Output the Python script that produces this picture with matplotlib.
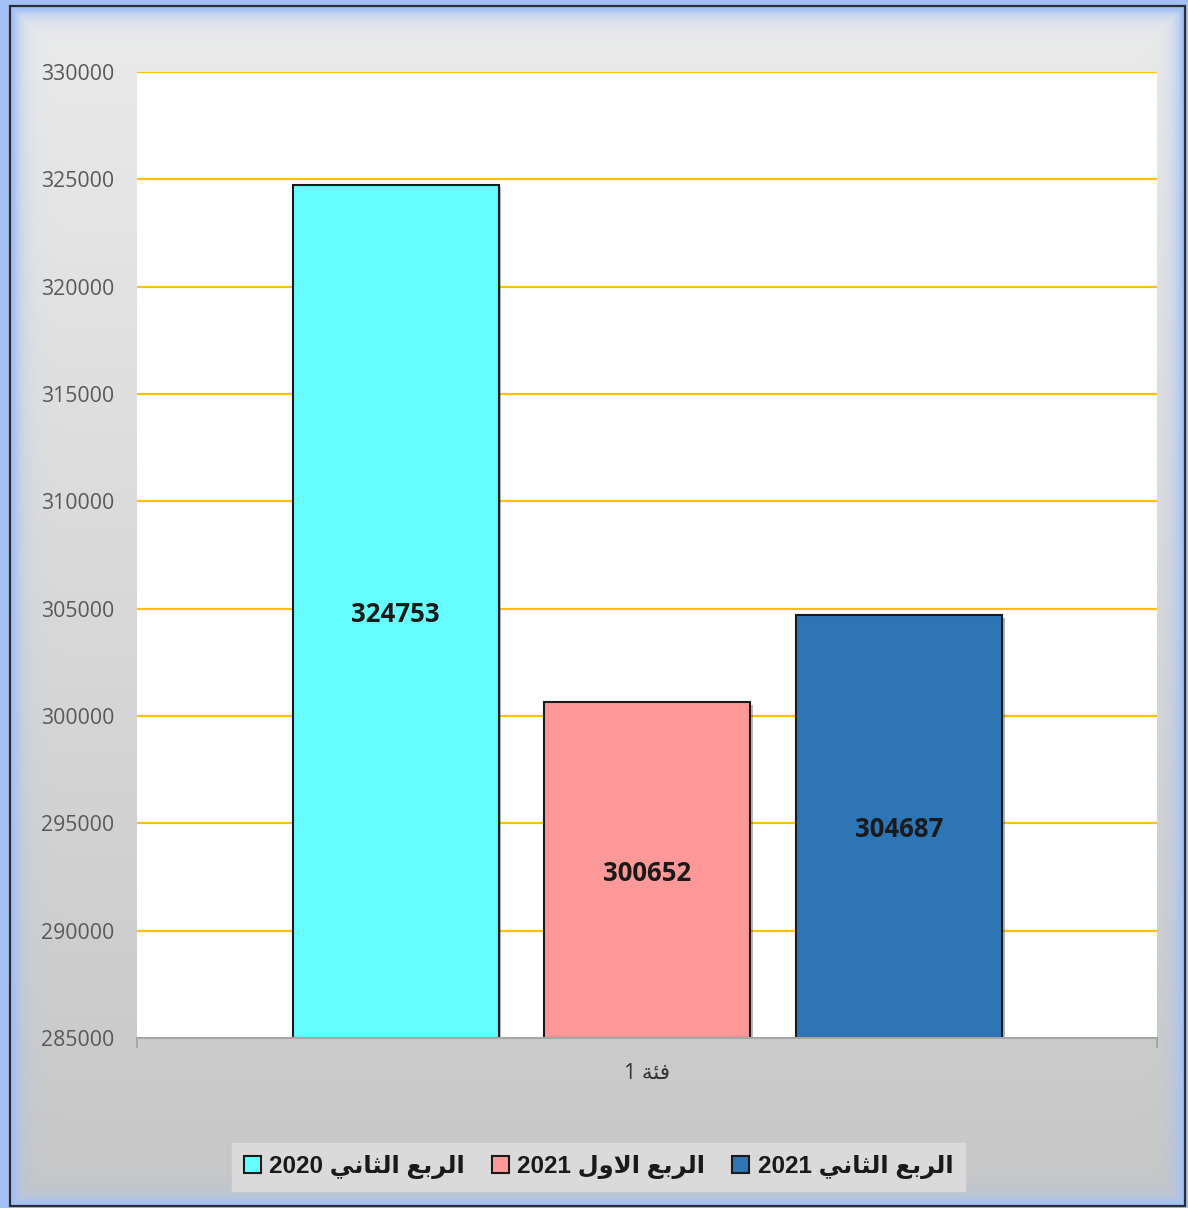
import numpy as np
import matplotlib
matplotlib.use("Agg")
import matplotlib.pyplot as plt
from matplotlib.patches import Rectangle
from matplotlib import patheffects as pe

# ---- data ----
category = "فئة 1"
series_names = ["الربع الثاني 2020", "الربع الاول 2021", "الربع الثاني 2021"]
series_values = [324753, 300652, 304687]
series_colors = ["#66FFFF", "#FF9999", "#2E75B6"]
y_ticks = [285000, 290000, 295000, 300000, 305000, 310000, 315000, 320000, 325000, 330000]

# ---- simple Arabic shaping (contextual forms + right-to-left order) ----
FORMS = {
    'ا': ('\uFE8D', '\uFE8E', None, None),
    'ب': ('\uFE8F', '\uFE90', '\uFE91', '\uFE92'),
    'ة': ('\uFE93', '\uFE94', None, None),
    'ث': ('\uFE99', '\uFE9A', '\uFE9B', '\uFE9C'),
    'ر': ('\uFEAD', '\uFEAE', None, None),
    'ع': ('\uFEC9', '\uFECA', '\uFECB', '\uFECC'),
    'ف': ('\uFED1', '\uFED2', '\uFED3', '\uFED4'),
    'ل': ('\uFEDD', '\uFEDE', '\uFEDF', '\uFEE0'),
    'ن': ('\uFEE5', '\uFEE6', '\uFEE7', '\uFEE8'),
    'و': ('\uFEED', '\uFEEE', None, None),
    'ي': ('\uFEF1', '\uFEF2', '\uFEF3', '\uFEF4'),
    'ئ': ('\uFE89', '\uFE8A', '\uFE8B', '\uFE8C'),
    'لا': ('\uFEFB', '\uFEFC', None, None),
}


def shape_word(word):
    letters, i = [], 0
    while i < len(word):
        if word[i] == 'ل' and i + 1 < len(word) and word[i + 1] == 'ا':
            letters.append('لا')
            i += 2
        else:
            letters.append(word[i])
            i += 1
    out = []
    for k, ch in enumerate(letters):
        if ch not in FORMS:
            out.append(ch)
            continue
        prev = letters[k - 1] if k > 0 else None
        nxt = letters[k + 1] if k + 1 < len(letters) else None
        join_prev = prev in FORMS and FORMS[prev][2] is not None
        join_next = FORMS[ch][2] is not None and nxt in FORMS
        iso, fin, ini, med = FORMS[ch]
        if join_prev and join_next:
            out.append(med)
        elif join_prev:
            out.append(fin)
        elif join_next:
            out.append(ini)
        else:
            out.append(iso)
    return ''.join(reversed(out))


def rtl(text):
    tokens = text.split(' ')
    return ' '.join(t if t.isascii() else shape_word(t) for t in reversed(tokens))


W, H = 1188, 1208
fig = plt.figure(figsize=(W / 100, H / 100), dpi=100)

# ---- background: grey vertical gradient with a soft blue glowing frame ----
yy, xx = np.mgrid[0:H, 0:W].astype(float)
grey = 0.922 - 1.2e-4 * yy
x0, y0, x1, y1 = 10, 6, 1185, 1206
d = np.minimum.reduce([xx - x0, x1 - xx, yy - y0, y1 - yy])
blue = np.array([0.64, 0.76, 0.96])
w = np.where(d <= 0, 1.0, np.clip(1.5 * np.exp(-np.clip(d, 0, None) / 8.0), 0, 1))
img = (1 - w)[..., None] * grey[..., None] + w[..., None] * blue
bg = fig.add_axes([0, 0, 1, 1], zorder=-10)
bg.imshow(img, extent=[0, W, H, 0], aspect='auto', interpolation='bilinear')
bg.set_xlim(0, W)
bg.set_ylim(H, 0)
bg.axis('off')
bg.add_patch(Rectangle((x0, y0), x1 - x0, y1 - y0, fill=False,
                       edgecolor='#2a2c36', linewidth=1.6))

# ---- chart ----
ax = fig.add_axes([137 / W, 1 - 1038 / H, (1157 - 137) / W, (1038 - 72) / H])
ax.set_facecolor('white')

bar_w = 0.202
offsets = [-0.2465, 0.0, 0.2475]
for name, val, col, off in zip(series_names, series_values, series_colors, offsets):
    bars = ax.bar(off, val - y_ticks[0], bottom=y_ticks[0], width=bar_w, color=col,
                  edgecolor='#1a1a1a', linewidth=1.5, label=rtl(name), zorder=3)
    for b in bars:
        b.set_path_effects([pe.SimplePatchShadow(offset=(2, -2), alpha=0.35), pe.Normal()])
    ax.text(off, (val + y_ticks[0]) / 2, f"{val}", ha='center', va='center_baseline',
            fontsize=18.5, fontweight='bold', family='Open Sans', color='#1a1a1a', zorder=4)

ax.set_xlim(-0.5, 0.5)
ax.set_ylim(y_ticks[0], y_ticks[-1])
ax.set_yticks(y_ticks)
ax.set_yticklabels([str(v) for v in y_ticks], family='Open Sans', fontsize=15.3, color='#595959')
ax.tick_params(axis='y', length=0, pad=16.5)
for v in y_ticks[1:]:
    ax.axhline(v, color='#FFC000', linewidth=1.6, zorder=1)

ax.set_xticks([0])
ax.set_xticklabels([rtl(category)], family=['Open Sans', 'DejaVu Sans'],
                   fontsize=15.5, color='#333333')
ax.tick_params(axis='x', length=0, pad=18)
ax.set_xticks([-0.5, 0.5], minor=True)
ax.tick_params(axis='x', which='minor', length=7, width=1.2, color='#a0a0a0', direction='out')

for s in ['top', 'right', 'left']:
    ax.spines[s].set_visible(False)
ax.spines['bottom'].set_color('#a6a6a6')
ax.spines['bottom'].set_linewidth(1.5)
ax.spines['bottom'].set_zorder(5)

leg = ax.legend(loc='center', bbox_to_anchor=(598.5 / W, 1 - 1167 / H),
                bbox_transform=fig.transFigure, ncol=3, frameon=True, fancybox=False,
                facecolor='#dadada', edgecolor='#dadada', framealpha=1,
                prop={'family': ['Liberation Sans', 'DejaVu Sans'], 'weight': 'bold', 'size': 17.5},
                handlelength=0.7, handleheight=0.7, handletextpad=0.35,
                columnspacing=1.1, borderpad=0.5, borderaxespad=0)
for t in leg.get_texts():
    t.set_color('#1a1a1a')
for h in leg.legend_handles:
    h.set_path_effects([])
    h.set_edgecolor('#1a1a1a')
    h.set_linewidth(1.5)

fig.savefig('out.png', dpi=100)
